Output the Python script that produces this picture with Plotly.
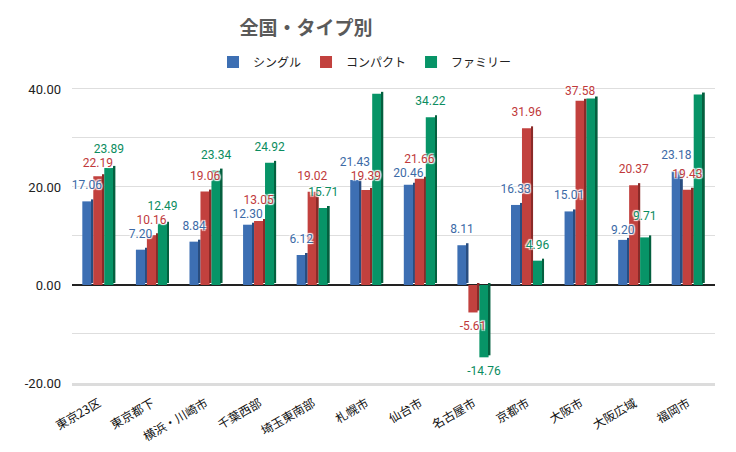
import plotly.graph_objects as go

categories = ["東京23区", "東京都下", "横浜・川崎市", "千葉西部", "埼玉東南部", "札幌市",
              "仙台市", "名古屋市", "京都市", "大阪市", "大阪広域", "福岡市"]
single = [17.06, 7.20, 8.84, 12.30, 6.12, 21.43, 20.46, 8.11, 16.33, 15.01, 9.20, 23.18]
compact = [22.19, 10.16, 19.06, 13.05, 19.02, 19.39, 21.66, -5.61, 31.96, 37.58, 20.37, 19.43]
family = [23.89, 12.49, 23.34, 24.92, 15.71, 39.00, 34.22, -14.76, 4.96, 38.05, 9.71, 38.86]
series_names = ["シングル", "コンパクト", "ファミリー"]
tick_vals = [-20, -10, 0, 10, 20, 30, 40]
tick_text = ["-20.00", "", "0.00", "", "20.00", "", "40.00"]

# styling
front_colors = ["#3d6fb3", "#c2413e", "#079467"]
side_colors = ["#284d80", "#8a2a28", "#04603f"]
label_colors = ["#3c6aa6", "#c0393b", "#0b8c60"]

W, H = 736, 452
M_L, M_R, M_T, M_B = 72, 21, 86, 69
Y_RANGE = [-20, 40.6]
ppu = (H - M_T - M_B) / (Y_RANGE[1] - Y_RANGE[0])  # pixels per unit

slot = 0.205
front_w = 0.172
side_w = 0.035
depth = 2.0 / ppu  # 3D depth in data units (2px)
group_w = slot * 3

xs = list(range(len(categories)))
series_vals = [single, compact, family]

fig = go.Figure()
for k, (name, vals) in enumerate(zip(series_names, series_vals)):
    start = -group_w / 2 + k * slot
    fig.add_trace(go.Bar(
        x=xs, y=vals, name=name, width=front_w, offset=start,
        marker=dict(color=front_colors[k], line=dict(width=0)),
        legendrank=k,
    ))
    fig.add_trace(go.Bar(
        x=xs, y=vals, base=depth, width=side_w, offset=start + front_w,
        marker=dict(color=side_colors[k], line=dict(width=0)),
        showlegend=False, hoverinfo="skip",
    ))

# data labels with simple collision avoidance (in pixel space)
min_sep = 14.0
label_y = [[0.0] * len(categories) for _ in series_vals]
for i in range(len(categories)):
    centers = []
    for k, vals in enumerate(series_vals):
        v = vals[i]
        c = v * ppu + 15 if v >= 0 else v * ppu - 15
        centers.append(c)
    for _ in range(30):
        for a in range(3):
            for b in range(a + 1, 3):
                d = centers[b] - centers[a]
                if abs(d) < min_sep:
                    push = (min_sep - abs(d)) / 2
                    if d >= 0:
                        centers[b] += push
                        centers[a] -= push
                    else:
                        centers[b] -= push
                        centers[a] += push
    top_limit = (Y_RANGE[1] * ppu) + 5
    for k in range(3):
        label_y[k][i] = min(centers[k], top_limit) / ppu

halo = "1px 1px 1px #fff, -1px -1px 1px #fff, 1px -1px 1px #fff, -1px 1px 1px #fff"
for k, vals in enumerate(series_vals):
    start = -group_w / 2 + k * slot
    fig.add_trace(go.Scatter(
        x=[x + start + front_w / 2 for x in xs], y=label_y[k], mode="text",
        text=[f"{v:.2f}" for v in vals], textposition="middle center",
        textfont=dict(color=label_colors[k], size=12, family="Roboto", shadow=halo),
        showlegend=False, hoverinfo="skip", cliponaxis=False,
    ))

fig.update_layout(
    width=W, height=H,
    paper_bgcolor="white", plot_bgcolor="white",
    font=dict(family="Roboto, Noto Sans CJK JP, sans-serif", color="#222"),
    title=dict(text="<b>全国・タイプ別</b>", x=306 / W, xanchor="center", y=1 - 28 / H, yanchor="middle",
               font=dict(size=19, color="#5a5a5a", family="Noto Sans CJK JP")),
    legend=dict(orientation="h", xref="container", yref="container",
                x=365 / W, xanchor="center", y=1 - 62 / H, yanchor="middle",
                font=dict(size=12, color="#222", family="Noto Sans CJK JP"), itemwidth=30),
    barmode="overlay",
    margin=dict(l=M_L, r=M_R, t=M_T, b=M_B, autoexpand=False),
    showlegend=True,
)
fig.update_yaxes(range=Y_RANGE, tickvals=tick_vals, ticktext=tick_text,
                 gridcolor="#dedede", gridwidth=1, zeroline=True, zerolinecolor="#222", zerolinewidth=1.6,
                 tickfont=dict(size=13, color="#222", family="Roboto"), showline=False, ticks="",
                 ticklabelstandoff=10, automargin=False)
fig.update_xaxes(range=[-0.5, len(categories) - 0.5], tickvals=xs, ticktext=categories,
                 tickangle=-30, tickfont=dict(size=12, color="#111", family="Noto Sans CJK JP"),
                 showline=True, linecolor="#dcdcdc", linewidth=3, ticks="", showgrid=False,
                 ticklabelstandoff=6, automargin=False)
fig.write_html("out.html", config={"displayModeBar": False},
               post_script="document.body.style.margin='0';")
